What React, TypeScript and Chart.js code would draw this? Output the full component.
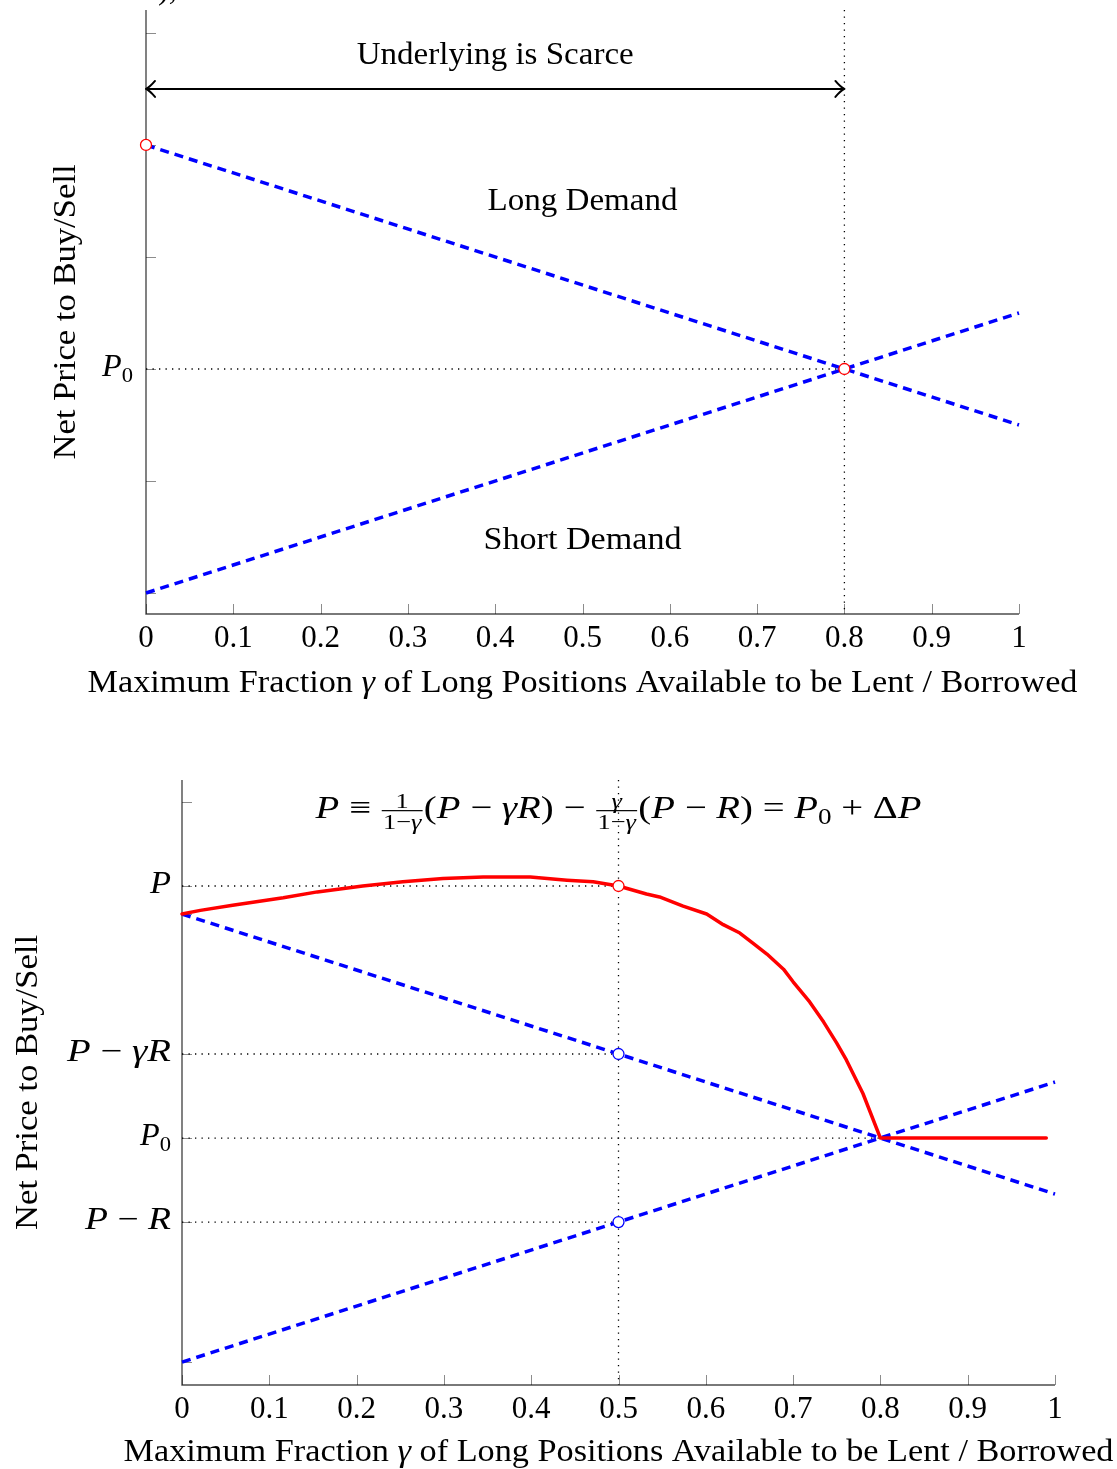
import React, { useEffect, useRef } from 'react';
import { Chart, registerables } from 'chart.js';

Chart.register(...registerables);

const FONT = "'Liberation Serif', 'Times New Roman', serif";

// ---------- shared axis data ----------
const xTickValues = [0, 0.1, 0.2, 0.3, 0.4, 0.5, 0.6, 0.7, 0.8, 0.9, 1];
const xTickLabels = ['0', '0.1', '0.2', '0.3', '0.4', '0.5', '0.6', '0.7', '0.8', '0.9', '1'];
const xAxisTitle: [string, boolean][] = [
  ['Maximum Fraction ', false],
  ['γ', true],
  [' of Long Positions Available to be Lent / Borrowed', false],
];
const yAxisTitle = 'Net Price to Buy/Sell';

// ---------- top chart data ----------
const topYRange = [-2.1875, 3.205];
const topYTicks = [3, 2, 1, 0, -1, -2];
const topYLabelValues = [0];
const topYLabels = ['P_0'];
const topLongX = [0, 1];
const topLongY = [2, -0.5];
const topShortX = [0, 1];
const topShortY = [-2, 0.5];
const topArrowX = [0, 0.8];
const topArrowY = [2.5, 2.5];
const topMarkX = [0, 0.8];
const topMarkY = [2, 0];
const topGuideX = 0.8;
const topDottedLevels = [0];
const topDottedEnds = [0.8];
const topNotes = ['Underlying is Scarce', 'Long Demand', 'Short Demand'];
const topNoteX = [0.4, 0.5, 0.5];
const topNoteY = [2.8, 1.5, -1.53];

// ---------- bottom chart data ----------
const botYRange = [-2.94, 4.262];
const botYTicks = [4, 3, 2.667, 1, 0, -1, -2.667];
const botYLabelValues = [3, 1, 0, -1];
const botYLabels = ['P', 'P − γR', 'P_0', 'P − R'];
const botLongX = [0, 1];
const botLongY = [2.667, -0.667];
const botShortX = [0, 1];
const botShortY = [-2.667, 0.667];
const netPriceX = [0, 0.021, 0.058, 0.116, 0.155, 0.207, 0.253, 0.299, 0.345, 0.399, 0.441, 0.471, 0.5, 0.532, 0.547, 0.574, 0.601, 0.62, 0.639, 0.655, 0.67, 0.689, 0.7, 0.719, 0.735, 0.75, 0.761, 0.78, 0.8, 0.99];
const netPriceY = [2.667, 2.71, 2.77, 2.86, 2.93, 3.0, 3.05, 3.09, 3.107, 3.107, 3.07, 3.05, 3.0, 2.905, 2.87, 2.76, 2.667, 2.54, 2.44, 2.31, 2.19, 2.01, 1.86, 1.62, 1.38, 1.13, 0.93, 0.53, 0.0, 0.0];
const botGuideX = 0.5;
const botRedMarkX = [0.5];
const botRedMarkY = [3];
const botBlueMarkX = [0.5, 0.5];
const botBlueMarkY = [1, -1];
const botDottedLevels = [3, 1, 0, -1];
const botDottedEnds = [0.5, 0.5, 0.8, 0.5];

// ---------- helpers ----------
const zip = (xs: number[], ys: number[]) => xs.map((x, i) => ({ x, y: ys[i] }));

const dashed = (xs: number[], ys: number[]) => ({
  data: zip(xs, ys), showLine: true, borderColor: '#0000ff', borderWidth: 3.5,
  borderDash: [9, 6], pointRadius: 0, order: 2, clip: false, tension: 0,
});
const dotted = (xs: number[], ys: number[]) => ({
  data: zip(xs, ys), showLine: true, borderColor: '#000', borderWidth: 1.3,
  borderDash: [1.3, 5.2], pointRadius: 0, order: 4, clip: false, tension: 0,
});
const markers = (xs: number[], ys: number[], color: string) => ({
  data: zip(xs, ys), showLine: false, pointRadius: 5.5, pointBorderColor: color,
  pointBackgroundColor: '#fff', pointBorderWidth: 1.3, order: 0, clip: false,
});

type Run = { text: string; italic: boolean; size: number; dy: number; frac?: [string, string] };

const fontOf = (italic: boolean, size: number) => `${italic ? 'italic ' : ''}${size}px ${FONT}`;

function mathRuns(s: string, size: number): Run[] {
  const runs: Run[] = [];
  for (let i = 0; i < s.length; i++) {
    const ch = s[i];
    if (ch === '_') {
      i++;
      runs.push({ text: s[i], italic: false, size: size * 0.7, dy: size * 0.2 });
      continue;
    }
    const italic = /[A-Za-zα-ω]/.test(ch);
    runs.push({ text: ch, italic, size, dy: 0 });
  }
  return runs;
}

function runWidth(ctx: CanvasRenderingContext2D, r: Run) {
  if (r.frac) {
    const fs = r.size * 0.68;
    const wn = measureRuns(ctx, mathRuns(r.frac[0], fs));
    const wd = measureRuns(ctx, mathRuns(r.frac[1], fs));
    return Math.max(wn, wd) + 4;
  }
  ctx.font = fontOf(r.italic, r.size);
  return ctx.measureText(r.text).width;
}
function measureRuns(ctx: CanvasRenderingContext2D, runs: Run[]) {
  return runs.reduce((a, r) => a + runWidth(ctx, r), 0);
}
function paintRuns(ctx: CanvasRenderingContext2D, runs: Run[]) {
  let cx = 0;
  for (const r of runs) {
    const w = runWidth(ctx, r);
    if (r.frac) {
      const fs = r.size * 0.68;
      const num = mathRuns(r.frac[0], fs);
      const den = mathRuns(r.frac[1], fs);
      const wn = measureRuns(ctx, num);
      const wd = measureRuns(ctx, den);
      const axis = -r.size * 0.23;
      ctx.save();
      ctx.translate(cx + (w - wn) / 2, axis - 3);
      paintRuns(ctx, num);
      ctx.restore();
      ctx.save();
      ctx.translate(cx + (w - wd) / 2, axis + fs * 0.72 + 3);
      paintRuns(ctx, den);
      ctx.restore();
      ctx.fillRect(cx + 1, axis - 0.6, w - 2, 1.2);
    } else {
      ctx.font = fontOf(r.italic, r.size);
      ctx.fillText(r.text, cx, r.dy);
    }
    cx += w;
  }
}
function drawRuns(ctx: CanvasRenderingContext2D, runs: Run[], x: number, y: number,
  align: 'left' | 'center' | 'right', target?: number, rotate?: boolean) {
  const total = measureRuns(ctx, runs);
  const sx = target ? target / total : 1;
  const drawn = total * sx;
  const start = align === 'center' ? -drawn / 2 : align === 'right' ? -drawn : 0;
  ctx.save();
  ctx.fillStyle = '#000';
  ctx.textAlign = 'left';
  ctx.textBaseline = 'alphabetic';
  ctx.translate(x, y);
  if (rotate) ctx.rotate(-Math.PI / 2);
  ctx.translate(start, 0);
  ctx.scale(sx, 1);
  paintRuns(ctx, runs);
  ctx.restore();
}
const plain = (segs: [string, boolean][], size: number): Run[] =>
  segs.map(([t, it]) => ({ text: t, italic: it, size, dy: 0 }));

// ---------- decoration plugin ----------
type DecorCfg = {
  yTicks: number[];
  yLabelValues: number[];
  yLabels: string[];
  yLabelWidths: number[];
  yLabelGap: number;
  xTitleOffset: number;
  yTitleX: number;
  extra?: (chart: any) => void;
};

function makeDecor(cfg: DecorCfg) {
  return {
    id: 'decor',
    beforeDatasetsDraw(chart: any) {
      const ctx: CanvasRenderingContext2D = chart.ctx;
      const xs = chart.scales.x, ys = chart.scales.y;
      const { left, right, top, bottom } = chart.chartArea;
      ctx.save();
      ctx.strokeStyle = 'rgba(0,0,0,0.45)';
      ctx.lineWidth = 1;
      ctx.beginPath();
      for (const v of xTickValues) {
        const px = Math.round(xs.getPixelForValue(v)) + 0.5;
        ctx.moveTo(px, bottom);
        ctx.lineTo(px, bottom - 10);
      }
      for (const v of cfg.yTicks) {
        const py = Math.round(ys.getPixelForValue(v)) + 0.5;
        ctx.moveTo(left, py);
        ctx.lineTo(left + 10, py);
      }
      ctx.stroke();
      ctx.strokeStyle = 'rgba(0,0,0,0.7)';
      ctx.lineWidth = 1.4;
      ctx.beginPath();
      ctx.moveTo(left, top);
      ctx.lineTo(left, bottom);
      ctx.lineTo(right, bottom);
      ctx.stroke();
      ctx.restore();
    },
    afterDraw(chart: any) {
      const ctx: CanvasRenderingContext2D = chart.ctx;
      const ys = chart.scales.y;
      const { left, right, top, bottom } = chart.chartArea;
      cfg.yLabelValues.forEach((v, i) => {
        const py = ys.getPixelForValue(v);
        drawRuns(ctx, mathRuns(cfg.yLabels[i], 31), left - cfg.yLabelGap, py + 7, 'right', cfg.yLabelWidths[i]);
      });
      drawRuns(ctx, plain(xAxisTitle, 32), (left + right) / 2, bottom + cfg.xTitleOffset, 'center', 990);
      drawRuns(ctx, plain([[yAxisTitle, false]], 32), cfg.yTitleX, (top + bottom) / 2, 'center', 295, true);
      if (cfg.extra) cfg.extra(chart);
    },
  };
}

function baseOptions(yRange: number[], yWidth: number, xHeight: number, padding: any) {
  return {
    responsive: false,
    animation: false as const,
    devicePixelRatio: 1,
    events: [],
    layout: { padding },
    plugins: { legend: { display: false }, tooltip: { enabled: false }, title: { display: false } },
    scales: {
      x: {
        type: 'linear' as const, min: 0, max: 1,
        afterBuildTicks: (s: any) => { s.ticks = xTickValues.map((v) => ({ value: v })); },
        ticks: {
          callback: (_v: any, i: number) => xTickLabels[i],
          font: { family: FONT, size: 31 }, color: '#000', padding: 6,
          maxRotation: 0, autoSkip: false,
        },
        grid: { display: false, drawTicks: false },
        border: { display: false },
        afterFit: (s: any) => { s.height = xHeight; },
      },
      y: {
        type: 'linear' as const, min: yRange[0], max: yRange[1],
        ticks: { display: false },
        grid: { display: false, drawTicks: false },
        border: { display: false },
        afterFit: (s: any) => { s.width = yWidth; },
      },
    },
  };
}

function topConfig(): any {
  const guide = dotted([topGuideX, topGuideX], [topYRange[1], topYRange[0]]);
  const levels = topDottedLevels.map((lv, i) => dotted([0, topDottedEnds[i]], [lv, lv]));
  const decor = makeDecor({
    yTicks: topYTicks, yLabelValues: topYLabelValues, yLabels: topYLabels, yLabelWidths: [31],
    yLabelGap: 13, xTitleOffset: 78, yTitleX: 75,
    extra: (chart: any) => {
      const ctx: CanvasRenderingContext2D = chart.ctx;
      const xs = chart.scales.x, ys = chart.scales.y;
      topNotes.forEach((t, i) => {
        drawRuns(ctx, plain([[t, false]], 32), xs.getPixelForValue(topNoteX[i]),
          ys.getPixelForValue(topNoteY[i]) + 9, 'center', [277, 190, 198][i]);
      });
      // arrow heads
      const a0 = xs.getPixelForValue(topArrowX[0]);
      const a1 = xs.getPixelForValue(topArrowX[1]);
      const ay = ys.getPixelForValue(topArrowY[0]);
      ctx.save();
      ctx.strokeStyle = '#000';
      ctx.lineWidth = 2;
      ctx.lineCap = 'round';
      ctx.lineJoin = 'round';
      ctx.beginPath();
      ctx.moveTo(a0 + 9, ay - 8);
      ctx.quadraticCurveTo(a0 + 4, ay - 2, a0, ay);
      ctx.quadraticCurveTo(a0 + 4, ay + 2, a0 + 9, ay + 8);
      ctx.moveTo(a1 - 9, ay - 8);
      ctx.quadraticCurveTo(a1 - 4, ay - 2, a1, ay);
      ctx.quadraticCurveTo(a1 - 4, ay + 2, a1 - 9, ay + 8);
      ctx.stroke();
      ctx.restore();
      // clipped remnant of text above
      ctx.save();
      ctx.fillStyle = '#000';
      ctx.font = fontOf(false, 32);
      ctx.textBaseline = 'alphabetic';
      ctx.fillText('),', 158, -1);
      ctx.restore();
    },
  });
  return {
    type: 'scatter',
    data: {
      datasets: [
        markers(topMarkX, topMarkY, '#ff0000'),
        dashed(topLongX, topLongY),
        dashed(topShortX, topShortY),
        {
          data: zip(topArrowX, topArrowY), showLine: true, borderColor: '#000', borderWidth: 2,
          pointRadius: 0, order: 1, clip: false,
        },
        guide,
        ...levels,
      ],
    },
    options: baseOptions(topYRange, 146, 720 - 614, { left: 0, right: 98, top: 10, bottom: 0 }),
    plugins: [decor],
  };
}

function botConfig(): any {
  const guide = dotted([botGuideX, botGuideX], [botYRange[1], botYRange[0]]);
  const levels = botDottedLevels.map((lv, i) => dotted([0, botDottedEnds[i]], [lv, lv]));
  const decor = makeDecor({
    yTicks: botYTicks, yLabelValues: botYLabelValues, yLabels: botYLabels, yLabelWidths: [21, 104, 31, 86],
    yLabelGap: 11, xTitleOffset: 76, yTitleX: 37,
    extra: (chart: any) => {
      const ctx: CanvasRenderingContext2D = chart.ctx;
      const xs = chart.scales.x, ys = chart.scales.y;
      const S = 32;
      const runs: Run[] = [
        ...mathRuns('P ≡ ', S),
        { text: '', italic: false, size: S, dy: 0, frac: ['1', '1−γ'] },
        ...mathRuns('(P − γR) − ', S),
        { text: '', italic: false, size: S, dy: 0, frac: ['γ', '1−γ'] },
        ...mathRuns('(P − R) = P_0 + ΔP', S),
      ];
      drawRuns(ctx, runs, xs.getPixelForValue(0.5), ys.getPixelForValue(4) + 16, 'center', 606);
    },
  });
  return {
    type: 'scatter',
    data: {
      datasets: [
        markers(botRedMarkX, botRedMarkY, '#ff0000'),
        markers(botBlueMarkX, botBlueMarkY, '#0000ff'),
        {
          data: zip(netPriceX, netPriceY), showLine: true, borderColor: '#ff0000', borderWidth: 3.5,
          pointRadius: 0, order: 1, clip: false, tension: 0, borderJoinStyle: 'round', borderCapStyle: 'round',
        },
        dashed(botLongX, botLongY),
        dashed(botShortX, botShortY),
        guide,
        ...levels,
      ],
    },
    options: baseOptions(botYRange, 182, 749 - 665, { left: 0, right: 62, top: 60, bottom: 0 }),
    plugins: [decor],
  };
}

export default function App() {
  const topRef = useRef<HTMLCanvasElement>(null);
  const botRef = useRef<HTMLCanvasElement>(null);
  useEffect(() => {
    const c1 = new Chart(topRef.current as HTMLCanvasElement, topConfig());
    const c2 = new Chart(botRef.current as HTMLCanvasElement, botConfig());
    return () => { c1.destroy(); c2.destroy(); };
  }, []);
  return (
    <div style={{ position: 'absolute', left: 0, top: 0, width: 1117, height: 1469, background: '#fff' }}>
      <canvas ref={topRef} width={1117} height={720} style={{ display: 'block', width: 1117, height: 720 }} />
      <canvas ref={botRef} width={1117} height={749} style={{ display: 'block', width: 1117, height: 749 }} />
    </div>
  );
}
